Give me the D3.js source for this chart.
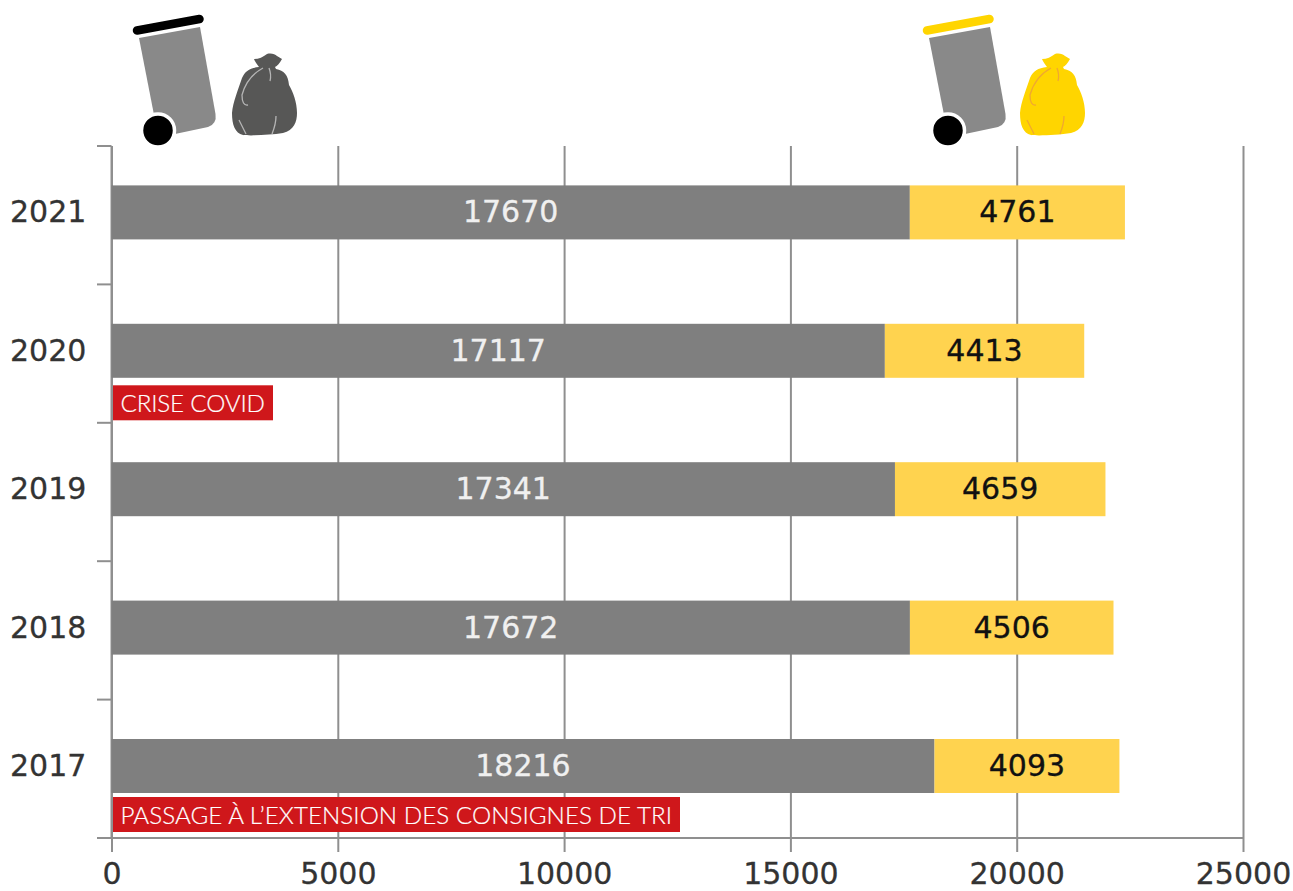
<!DOCTYPE html>
<html><head><meta charset="utf-8">
<script src="https://cdn.jsdelivr.net/npm/d3@7/dist/d3.min.js"></script>
<style>html,body{margin:0;padding:0;background:#fff}svg{display:block}</style>
</head><body><svg id="c" width="1293" height="891"></svg>
<script>
const years = ["2021","2020","2019","2018","2017"];
const greyValues = [17670,17117,17341,17672,18216];
const yellowValues = [4761,4413,4659,4506,4093];
const xTicks = [0,5000,10000,15000,20000,25000];
const noteYears = ["2020","2017"];
const noteTexts = ["CRISE COVID","PASSAGE À L’EXTENSION DES CONSIGNES DE TRI"];

const svg = d3.select("#c");
const x = d3.scaleLinear().domain([0,25000]).range([111.5,1243]);
// bars in the reference run on a very slightly tighter scale than the gridlines
const xBar = d3.scaleLinear().domain([0,25000]).range([111.5,1241]);
const y = d3.scaleBand().domain(years).range([146,838]);
const lineCol = "#8f8f8f", FONT = "'DejaVu Sans',Verdana,sans-serif", FS = 30;

const ax = svg.append("g").attr("transform","translate(0,838)")
  .call(d3.axisBottom(x).tickValues(xTicks).tickFormat(d3.format("d")).tickSize(14));
ax.select(".domain").attr("stroke",lineCol).attr("stroke-width",2).attr("d","M97,0H1243");
ax.selectAll(".tick line").attr("stroke",lineCol).attr("stroke-width",2).attr("y1",-692);
ax.selectAll(".tick text").attr("font-family",FONT).attr("font-size",FS).attr("fill","#333")
  .attr("stroke","#333").attr("stroke-width",0.3).attr("dy",null).attr("y",45.5);

const edges = years.map(d=>y(d)).concat([y.range()[1]]);
svg.append("g").selectAll("line").data(edges).join("line")
  .attr("x1",97).attr("x2",111.5).attr("y1",d=>d).attr("y2",d=>d)
  .attr("stroke",lineCol).attr("stroke-width",2);
svg.append("line").attr("x1",111.5).attr("x2",111.5).attr("y1",146).attr("y2",838)
  .attr("stroke",lineCol).attr("stroke-width",2);

const barTop = d => y(d)+39.4, barH = 54;
const rows = years.map((d,i)=>({year:d,g:greyValues[i],o:yellowValues[i]}));

svg.append("g").selectAll("rect").data(rows).join("rect")
  .attr("x",xBar(0)).attr("y",d=>barTop(d.year)).attr("width",d=>xBar(d.g)-xBar(0)).attr("height",barH).attr("fill","#7f7f7f");
svg.append("g").selectAll("rect").data(rows).join("rect")
  .attr("x",d=>xBar(d.g)).attr("y",d=>barTop(d.year)).attr("width",d=>xBar(d.g+d.o)-xBar(d.g)).attr("height",barH).attr("fill","#ffd34f");

const txt = (sel,anchor,col) => sel.attr("font-family",FONT).attr("font-size",FS)
  .attr("text-anchor",anchor).attr("dominant-baseline","central").attr("fill",col).attr("stroke",col).attr("stroke-width",0.3);
const mid = d => barTop(d.year)+barH/2-0.5;
svg.append("g").selectAll("text").data(rows).join("text").call(txt,"middle","#f0f0f0")
  .attr("x",d=>xBar(d.g/2)).attr("y",mid).text(d=>d.g);
svg.append("g").selectAll("text").data(rows).join("text").call(txt,"middle","#111")
  .attr("x",d=>xBar(d.g+d.o/2)).attr("y",mid).text(d=>d.o);
svg.append("g").selectAll("text").data(rows).join("text").call(txt,"start","#333")
  .attr("x",10).attr("y",mid).text(d=>d.year);

// red annotations
const noteGap = [7.5,4], noteTextLen = [144.5,551.5];
noteTexts.forEach((t,i)=>{
  const top = barTop(noteYears[i])+barH+noteGap[i];
  const g = svg.append("g");
  g.append("rect").attr("x",113).attr("y",top).attr("height",35).attr("fill","#cf171b").attr("width",noteTextLen[i]+15.5);
  g.append("text").attr("x",120.5).attr("y",top+17.5).attr("dominant-baseline","central")
    .attr("font-family","Lato,sans-serif").attr("font-weight",300).attr("font-size",24.2).attr("fill","#fff")
    .attr("stroke","#fff").attr("stroke-width",0.2)
    .attr("textLength",noteTextLen[i]).attr("lengthAdjust","spacing").text(t);
});

// icons
const binBody = "M139,38L200,27L215.5,114Q217,124 208,127L175,134L155,120Z";
const bagPath = "M254,59C259,59 263,57 267,54C271,53 275,54 277,56L282,59C280,63 277,66 275,67L276,69C284,71 288,74 289,85C293,92 297,102 297,113C297,122 294,130 283,133C270,135 250,136 243,135C235,133 232,125 232,113C233,102 238,90 242,78C245,71 250,68 259,67C257,64 255,62 254,59Z";
const bagVeins = ["M263,68C252,74 245,84 242,95C242,102 244,106 248,105","M269,68C271,73 271,77 270,81","M239,120C242,126 244,130 246,134","M276,116C276,123 274,129 272,134"];
function icon(dx,lidCol,bagCol,veinCol){
  const g = svg.append("g").attr("transform",`translate(${dx},0)`);
  g.append("line").attr("x1",137).attr("y1",30.5).attr("x2",199.5).attr("y2",19).attr("stroke",lidCol).attr("stroke-width",8.5).attr("stroke-linecap","round");
  g.append("path").attr("d",binBody).attr("fill","#898989");
  g.append("circle").attr("cx",158).attr("cy",130.5).attr("r",16.5).attr("fill","#000").attr("stroke","#fff").attr("stroke-width",3.5);
  const b = g.append("g").attr("transform",`translate(${dx?-2:0},0)`);
  b.append("path").attr("d",bagPath).attr("fill",bagCol);
  b.selectAll(".v").data(bagVeins).join("path").attr("d",d=>d).attr("fill","none").attr("stroke",veinCol).attr("stroke-width",1.3);
}
icon(0,"#000","#575756","#b5b5b5");
icon(790,"#ffd500","#ffd500","#f0a830");
</script></body></html>
